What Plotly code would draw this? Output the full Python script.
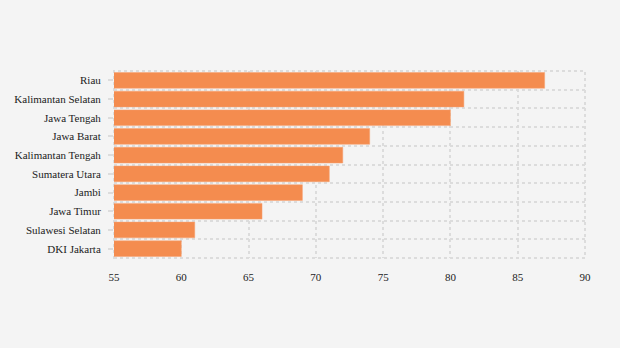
import plotly.graph_objects as go

provinces = ["Riau", "Kalimantan Selatan", "Jawa Tengah", "Jawa Barat", "Kalimantan Tengah",
             "Sumatera Utara", "Jambi", "Jawa Timur", "Sulawesi Selatan", "DKI Jakarta"]
values = [87, 81, 80, 74, 72, 71, 69, 66, 61, 60]
x_ticks = [55, 60, 65, 70, 75, 80, 85, 90]

pos = list(range(len(provinces)))
bounds = [p - 0.5 for p in pos] + [pos[-1] + 0.5]

grid_color = "#DCDCDC"
font = dict(family="Liberation Serif", size=11, color="#222222")

fig = go.Figure(go.Bar(
    x=values, y=pos, orientation="h",
    marker=dict(color="#F48C4F", line=dict(color="#F6A070", width=0.5)),
    hoverinfo="x+y",
))

fig.update_layout(
    width=620, height=348,
    margin=dict(l=114, r=35, t=71, b=90),
    paper_bgcolor="#F4F4F4", plot_bgcolor="#F4F4F4",
    bargap=0.16, showlegend=False, font=font,
    xaxis=dict(range=[55, 90], tickvals=x_ticks, showgrid=True, gridcolor=grid_color,
               griddash="dot", gridwidth=2, zeroline=False, showline=False,
               ticks="", ticklabelstandoff=11, tickfont=font),
    yaxis=dict(range=[pos[-1] + 0.5, -0.5], tickvals=pos, ticktext=provinces,
               showgrid=False, zeroline=False, showline=False,
               ticks="outside", ticklen=5, tickcolor=grid_color, tickwidth=2,
               ticklabelstandoff=5, tickfont=font,
               minor=dict(tickvals=bounds, showgrid=True, gridcolor=grid_color,
                          griddash="dot", gridwidth=2, ticks="")),
    shapes=[dict(type="rect", xref="paper", yref="paper", x0=0, x1=1, y0=0, y1=1,
                 line=dict(color=grid_color, width=2, dash="dot"), layer="below")],
)

fig.write_html("out.html")
